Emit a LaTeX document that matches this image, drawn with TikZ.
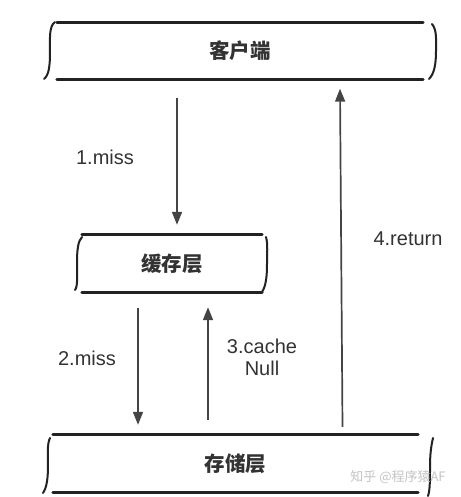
\documentclass[tikz,border=0pt]{standalone}
\usepackage{fontspec}
\setmainfont{Liberation Sans}
\newfontfamily\cjk{Noto Sans CJK SC}
\usetikzlibrary{arrows.meta}
\definecolor{boxline}{HTML}{222222}
\definecolor{arrline}{HTML}{444444}
\definecolor{txt}{HTML}{333333}
\definecolor{wm}{HTML}{C4C4C4}
\begin{document}
\begin{tikzpicture}[x=1pt,y=-1pt,
  layerbox/.style={draw=none,minimum height=57pt,inner sep=0pt,font=\cjk\bfseries\fontsize{20.5}{20.5}\selectfont,text=txt},
  edge/.style={draw=boxline,line width=2.8pt,line cap=round},
  brace/.style={draw=boxline,line width=2pt,line cap=round},
  arr/.style={draw=arrline,line width=1.7pt,-{Triangle[length=13pt,width=10pt]}},
  lbl/.style={font=\fontsize{20}{22}\selectfont,text=txt,align=center,inner sep=0pt}]
\useasboundingbox (0,0) rectangle (460,497);
\fill[white] (0,0) rectangle (460,497);
% boxes
\node[layerbox,minimum width=366pt] (client) at (240,51) {客户端};
\node[layerbox,minimum width=180pt] (cache) at (172,263.5) {缓存层};
\node[layerbox,minimum width=365pt] (storage) at (235.5,463.5) {存储层};
% box edges
\foreach \n in {client,cache,storage}{
  \draw[edge] (\n.north west) -- (\n.north east);
  \draw[edge] (\n.south west) -- (\n.south east);
}
% braces client
\draw[brace] (55,22) .. controls (49,26) and (50,38) .. (50,51) .. controls (50,66) and (49,75) .. (44,79);
\draw[brace] (432,24) .. controls (437,30) and (436,40) .. (436,51) .. controls (436,65) and (434,74) .. (429,79);
% braces cache
\draw[brace] (82,237) .. controls (78,241) and (77,250) .. (77,263) .. controls (77,276) and (78,286) .. (75,290);
\draw[brace] (266,237) .. controls (268,244) and (267,254) .. (267,264) .. controls (267,276) and (266,286) .. (262,292);
% braces storage
\draw[brace] (50,438) .. controls (47,444) and (48,454) .. (48,464) .. controls (48,478) and (47,487) .. (43,493);
\draw[brace] (433,438) .. controls (431,446) and (430,456) .. (430,466) .. controls (430,480) and (430,490) .. (428,496);
% arrows
\draw[arr] ([xshift=-63pt,yshift=-18pt]client.south) -- ([xshift=5pt,yshift=10pt]cache.north);
\draw[arr] ([xshift=-34pt,yshift=-16pt]cache.south) -- ([xshift=-97.5pt,yshift=10pt]storage.north);
\draw[arr] ([xshift=-27.5pt,yshift=15pt]storage.north) -- ([xshift=36pt,yshift=-15pt]cache.south);
\draw[arr] ([xshift=107pt,yshift=8pt]storage.north) -- ([xshift=100pt,yshift=-9pt]client.south);
% labels
\node[lbl] (l1) at (105,157) {1.miss};
\node[lbl] (l2) at (87,358) {2.miss};
\node[lbl] (l3) at (262,357) {3.cache\\Null};
\node[lbl] (l4) at (408,239) {4.return};
% watermark
\node[font=\cjk\fontsize{13}{13}\selectfont,text=wm,inner sep=0pt] (wmk) at (398,477) {知乎 @程序猿AF};
\end{tikzpicture}
\end{document}
